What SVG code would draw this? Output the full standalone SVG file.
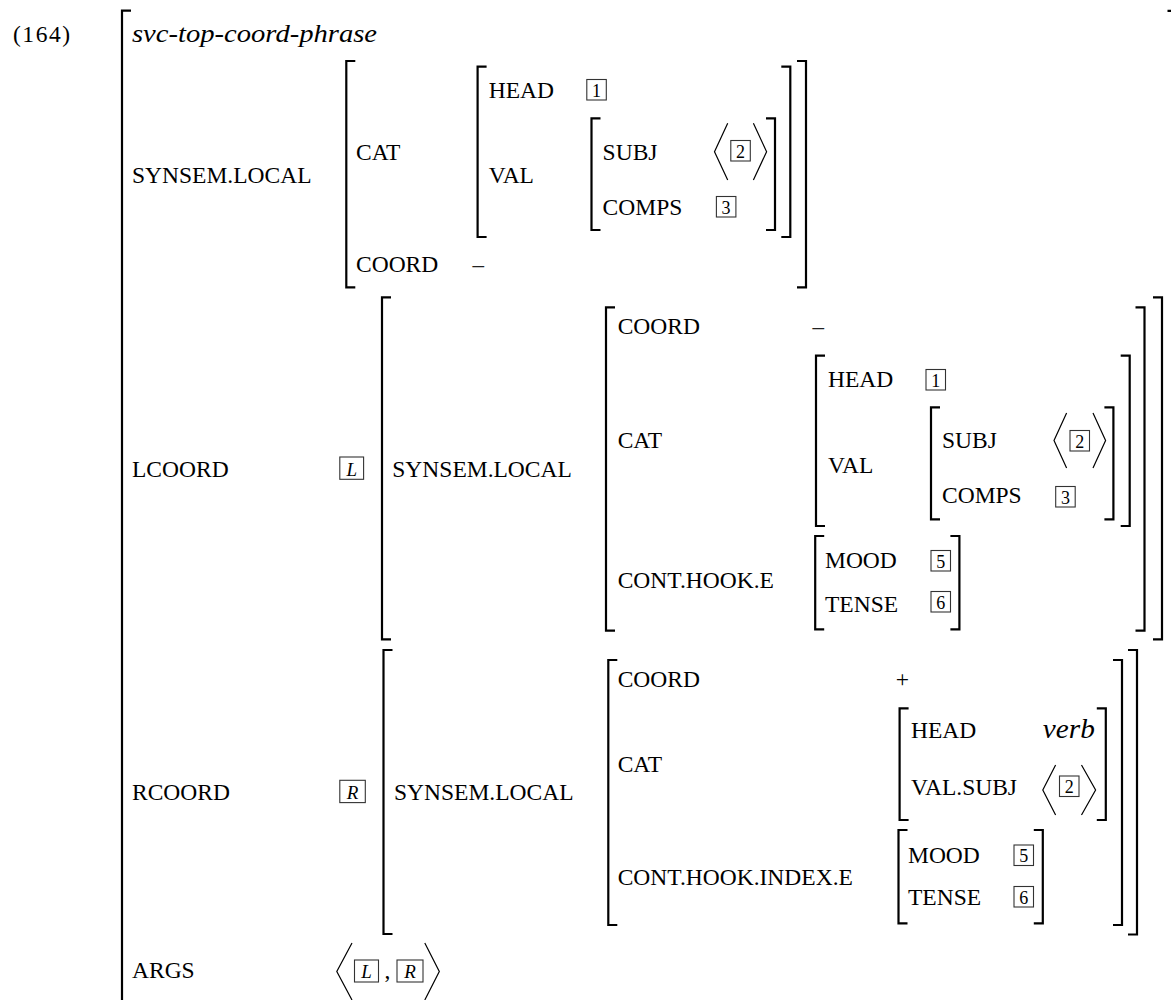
<svg xmlns="http://www.w3.org/2000/svg" width="1171" height="1000" viewBox="0 0 1171 1000">
<style>
.br{fill:none;stroke:#000;stroke-width:2.2}
.ang{fill:none;stroke:#000;stroke-width:1.2}
.tag{fill:#fff;stroke:#333;stroke-width:1.1}
.lbl{font-family:"Liberation Serif",serif;font-size:23.5px;fill:#000}
.it{font-family:"Liberation Serif",serif;font-style:italic;fill:#000}
.tt{font-family:"Liberation Serif",serif;font-size:18px;fill:#000;text-anchor:middle}
.tti{font-family:"Liberation Serif",serif;font-style:italic;font-size:19px;fill:#000;text-anchor:middle}
.sym{font-family:"Liberation Serif",serif;font-size:23px;fill:#222}
</style>
<rect width="1171" height="1000" fill="#fff"/>

<g id="example-number">
<text x="13" y="41.7" class="lbl" font-size="25" textLength="57">(164)</text>
</g>

<g id="outer">
<path class="br" d="M131,10.7 H122 V1005"/>
<path class="br" d="M1167.5,10.9 H1173 V1005"/>
<text x="132" y="41.7" class="it" font-size="25" textLength="245" lengthAdjust="spacingAndGlyphs">svc-top-coord-phrase</text>
<text x="132" y="183.3" class="lbl">SYNSEM.LOCAL</text>
<text x="132" y="476.7" class="lbl">LCOORD</text>
<text x="132" y="800" class="lbl">RCOORD</text>
<text x="132" y="978.3" class="lbl">ARGS</text>
</g>

<g id="top-local">
<path class="br" d="M355.3,61 H346.3 V287.3 H355.3"/>
<path class="br" d="M797,61 H806 V287.3 H797"/>
<text x="356" y="160" class="lbl">CAT</text>
<text x="356" y="271.7" class="lbl">COORD</text>
<text x="472.6" y="271.7" class="sym">–</text>
</g>

<g id="top-cat">
<path class="br" d="M486.6,66.7 H477.6 V237 H486.6"/>
<path class="br" d="M781.3,66.7 H790.3 V237 H781.3"/>
<text x="488.7" y="98.3" class="lbl">HEAD</text>
<rect class="tag" x="586.8" y="79.5" width="19.5" height="20.5"/>
<text x="596.5" y="96.5" class="tt">1</text>
<text x="488.7" y="183.3" class="lbl">VAL</text>
</g>

<g id="top-val">
<path class="br" d="M600.5,118.3 H591.5 V230 H600.5"/>
<path class="br" d="M766,118.3 H775 V230 H766"/>
<text x="602.6" y="160" class="lbl">SUBJ</text>
<polyline class="ang" points="727.7,123.3 714.5,151.7 727.7,180"/>
<rect class="tag" x="730.8" y="140.5" width="19.5" height="20.5"/>
<text x="740.5" y="157.5" class="tt">2</text>
<polyline class="ang" points="753.4,123.3 766.6,151.7 753.4,180"/>
<text x="602.6" y="215" class="lbl">COMPS</text>
<rect class="tag" x="716.4" y="196.5" width="19.5" height="20.5"/>
<text x="726.1" y="213.5" class="tt">3</text>
</g>

<g id="lcoord">
<rect class="tag" x="339.8" y="457" width="23.8" height="22.3"/>
<text x="351.7" y="475.5" class="tti">L</text>
<path class="br" d="M391,297.3 H382 V639.3 H391"/>
<path class="br" d="M1153,297.3 H1162 V639.3 H1153"/>
<text x="392.3" y="476.7" class="lbl">SYNSEM.LOCAL</text>
</g>

<g id="lcoord-local">
<path class="br" d="M615,307.3 H606 V630.7 H615"/>
<path class="br" d="M1135.5,307.3 H1144.5 V630.7 H1135.5"/>
<text x="617.7" y="334" class="lbl">COORD</text>
<text x="812.5" y="334" class="sym">–</text>
<text x="617.7" y="448.3" class="lbl">CAT</text>
<text x="617.7" y="588.3" class="lbl">CONT.HOOK.E</text>
</g>

<g id="lcoord-cat">
<path class="br" d="M825,355.7 H816 V526 H825"/>
<path class="br" d="M1120.7,355.7 H1129.7 V526 H1120.7"/>
<text x="828" y="386.7" class="lbl">HEAD</text>
<rect class="tag" x="926" y="369.5" width="19.5" height="20.5"/>
<text x="935.7" y="386.5" class="tt">1</text>
<text x="828" y="472.7" class="lbl">VAL</text>
</g>

<g id="lcoord-val">
<path class="br" d="M940,407.3 H931 V519.3 H940"/>
<path class="br" d="M1104.4,407.3 H1113.4 V519.3 H1104.4"/>
<text x="942" y="448.3" class="lbl">SUBJ</text>
<polyline class="ang" points="1066.6,413 1054,440.5 1066.6,468"/>
<rect class="tag" x="1070" y="430.5" width="19.5" height="20.5"/>
<text x="1079.7" y="447.5" class="tt">2</text>
<polyline class="ang" points="1093,413 1105.6,440.5 1093,468"/>
<text x="942" y="503.3" class="lbl">COMPS</text>
<rect class="tag" x="1055.7" y="486.5" width="19.5" height="20.5"/>
<text x="1065.4" y="503.5" class="tt">3</text>
</g>

<g id="lcoord-e">
<path class="br" d="M824.2,536 H815.2 V629.3 H824.2"/>
<path class="br" d="M950.4,536 H959.4 V629.3 H950.4"/>
<text x="825" y="568.3" class="lbl">MOOD</text>
<rect class="tag" x="931" y="550.5" width="19.5" height="20.5"/>
<text x="940.7" y="567.5" class="tt">5</text>
<text x="825" y="611.7" class="lbl">TENSE</text>
<rect class="tag" x="931" y="591.5" width="19.5" height="20.5"/>
<text x="940.7" y="608.5" class="tt">6</text>
</g>

<g id="rcoord">
<rect class="tag" x="339.8" y="780.3" width="25.5" height="22.3"/>
<text x="352.5" y="798.8" class="tti">R</text>
<path class="br" d="M392.5,650 H383.5 V934 H392.5"/>
<path class="br" d="M1128,650 H1137 V934.5 H1128"/>
<text x="394" y="800" class="lbl">SYNSEM.LOCAL</text>
</g>

<g id="rcoord-local">
<path class="br" d="M617.3,660 H608.3 V925 H617.3"/>
<path class="br" d="M1113,660 H1122 V925 H1113"/>
<text x="617.7" y="686.7" class="lbl">COORD</text>
<text x="895.8" y="686.7" class="lbl">+</text>
<text x="617.7" y="771.7" class="lbl">CAT</text>
<text x="617.7" y="885" class="lbl">CONT.HOOK.INDEX.E</text>
</g>

<g id="rcoord-cat">
<path class="br" d="M908.6,708.3 H899.6 V820 H908.6"/>
<path class="br" d="M1096.8,708.3 H1105.8 V820 H1096.8"/>
<text x="911" y="738.3" class="lbl">HEAD</text>
<text x="1042.8" y="738.3" class="it" font-size="27" textLength="52" lengthAdjust="spacingAndGlyphs">verb</text>
<text x="911" y="795" class="lbl">VAL.SUBJ</text>
<polyline class="ang" points="1055.6,765 1042.8,790 1055.6,815"/>
<rect class="tag" x="1059.5" y="776" width="19.5" height="20.5"/>
<text x="1069.2" y="793" class="tt">2</text>
<polyline class="ang" points="1081.5,765 1095.6,790 1081.5,815"/>
</g>

<g id="rcoord-e">
<path class="br" d="M907.5,830 H898.5 V923.3 H907.5"/>
<path class="br" d="M1033.8,830 H1042.8 V923.3 H1033.8"/>
<text x="908" y="863.3" class="lbl">MOOD</text>
<rect class="tag" x="1014" y="845" width="19.5" height="20.5"/>
<text x="1023.7" y="862" class="tt">5</text>
<text x="908" y="905" class="lbl">TENSE</text>
<rect class="tag" x="1014" y="886.5" width="19.5" height="20.5"/>
<text x="1023.7" y="903.5" class="tt">6</text>
</g>

<g id="args">
<polyline class="ang" points="352,943 336.8,971.5 352,1000"/>
<rect class="tag" x="354.5" y="960" width="24" height="22"/>
<text x="366.5" y="978.3" class="tti">L</text>
<text x="384.5" y="978.3" class="lbl">,</text>
<rect class="tag" x="397" y="960" width="26" height="22"/>
<text x="410" y="978.3" class="tti">R</text>
<polyline class="ang" points="424.8,943 439.3,971.5 424.8,1000"/>
</g>
</svg>
